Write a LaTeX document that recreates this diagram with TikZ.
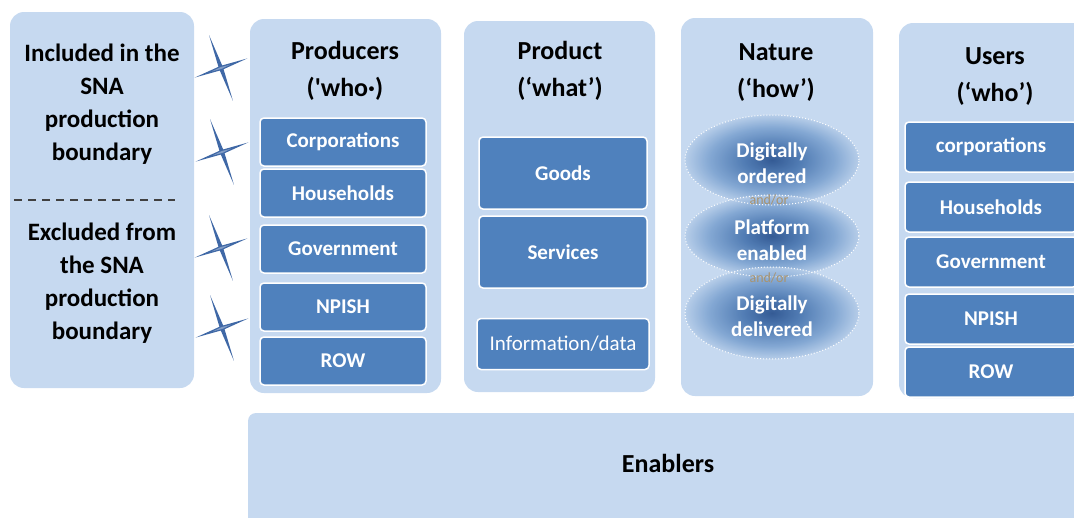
\documentclass[tikz,border=0pt]{standalone}
\usepackage{fontspec}
\setmainfont{Carlito}
\definecolor{panelblue}{HTML}{C6D9F0}
\definecolor{boxblue}{HTML}{4F81BD}
\definecolor{starblue}{HTML}{3F68A6}
\definecolor{ovalcore}{HTML}{1B4585}
\definecolor{andor}{HTML}{A8936F}
\pgfdeclareradialshading{ovalshade}{\pgfpoint{0bp}{0bp}}{%
  color(0bp)=(ovalcore); color(8bp)=(boxblue!65!ovalcore);
  color(18bp)=(boxblue!65!panelblue); color(25bp)=(panelblue!85!boxblue);
  color(50bp)=(panelblue!85!boxblue)}
\begin{document}
\begin{tikzpicture}
  [
    x=1pt, y=-1pt,
    panel/.style = {fill=panelblue, rounded corners=14pt},
    cell/.style  = {draw=white, line width=1.5pt, fill=boxblue, rounded corners=4pt,
                    text=white, inner sep=0pt, font=\fontsize{21}{25}\selectfont\bfseries},
    title/.style = {align=center, font=\fontsize{26}{37}\selectfont\bfseries},
    side/.style  = {align=center, font=\fontsize{25}{33}\selectfont\bfseries},
    oval/.style  = {shading=ovalshade, opacity=0.85},
    ovaltext/.style = {align=center, text=white, font=\fontsize{21}{26}\selectfont\bfseries},
    small/.style = {text=andor, font=\fontsize{14}{14}\selectfont},
  ]

%Page frame
\useasboundingbox (0,0) rectangle (1074,517);
\clip (0,0) rectangle (1074,517);

%Size of the cells
\def \cw{166}
\def \ch{48}

%Background panels
\fill[panel] (10,12) rectangle (194,388);
\fill[panel] (250,19) rectangle (441,393);
\fill[panel] (464,21) rectangle (655,392);
\fill[panel] (681,18) rectangle (873,396);
\fill[panel] (899,23) rectangle (1100,398);
\fill[panel, rounded corners=8pt] (248,413) rectangle (1100,560);

%Left panel
\node[side] (incl) at (102,104) {Included in the\\SNA\\production\\boundary};
\draw[line width=1.6pt, dash pattern=on 8pt off 6pt, black!75] (14,200) -- (175,200);
\node[side] (excl) at (102,283) {Excluded from\\the SNA\\production\\boundary};

%Sparkles between left panel and producers
\foreach \cx/\cy in {221/68, 222/152, 221/248, 222/328}
{
\begin{scope}[shift={(\cx,\cy)}, rotate=20]
\fill[starblue] (-28,0) -- (-2,-2) -- (0,-35) -- (2,-2) -- (28,0)
                -- (2,2) -- (0,35) -- (-2,2) -- cycle;
\fill[white, opacity=0.35] (-10,0) -- (0,-1) -- (10,0) -- (0,1) -- cycle;
\end{scope}
}

%Titles
\node[title] (prodt) at (345,71) {Producers\\(\textquotesingle who·)};
\node[title] (whatt) at (560,71) {Product\\(‘what’)};
\node[title] (howt)  at (776,73) {Nature\\(‘how’)};
\node[title] (usert) at (995,77) {Users\\(‘who’)};

%Producers
\foreach [count=\i] \j/\y in {Corporations/142, Households/193, Government/249, NPISH/307, ROW/361}
{
\node[cell, minimum width=\cw, minimum height=\ch] (prod\i) at (343,\y) {\j};
}

%Product
\node[cell, minimum width=168, minimum height=72] (goods) at (563,173) {Goods};
\node[cell, minimum width=168, minimum height=72] (serv)  at (563,252) {Services};
\node[cell, minimum width=172, minimum height=51, font=\fontsize{21}{25}\selectfont] (info) at (563,344) {Information/data};

%Nature
\shade[oval] (772,160) ellipse [x radius=87pt, y radius=45pt];
\shade[oval] (772,236) ellipse [x radius=87pt, y radius=41pt];
\shade[oval] (772,313) ellipse [x radius=87pt, y radius=46pt];
\draw[white, dotted, line width=1pt] (772,160) ellipse [x radius=87pt, y radius=45pt];
\draw[white, dotted, line width=1pt] (772,236) ellipse [x radius=87pt, y radius=41pt];
\draw[white, dotted, line width=1pt] (772,313) ellipse [x radius=87pt, y radius=46pt];
\node[ovaltext] (order) at (772,163) {Digitally\\ordered};
\node[small]    (or1)   at (769,200) {and/or};
\node[ovaltext] (platf) at (772,240) {Platform\\enabled};
\node[small]    (or2)   at (769,278) {and/or};
\node[ovaltext] (deliv) at (772,316) {Digitally\\delivered};

%Users
\foreach [count=\i] \j/\y in {corporations/147, Households/207, Government/262, NPISH/319, ROW/372}
{
\node[cell, minimum width=172, minimum height=50] (user\i) at (991,\y) {\j};
}

%Enablers
\node[title] (enab) at (668,463) {Enablers};
\end{tikzpicture}
\end{document}
